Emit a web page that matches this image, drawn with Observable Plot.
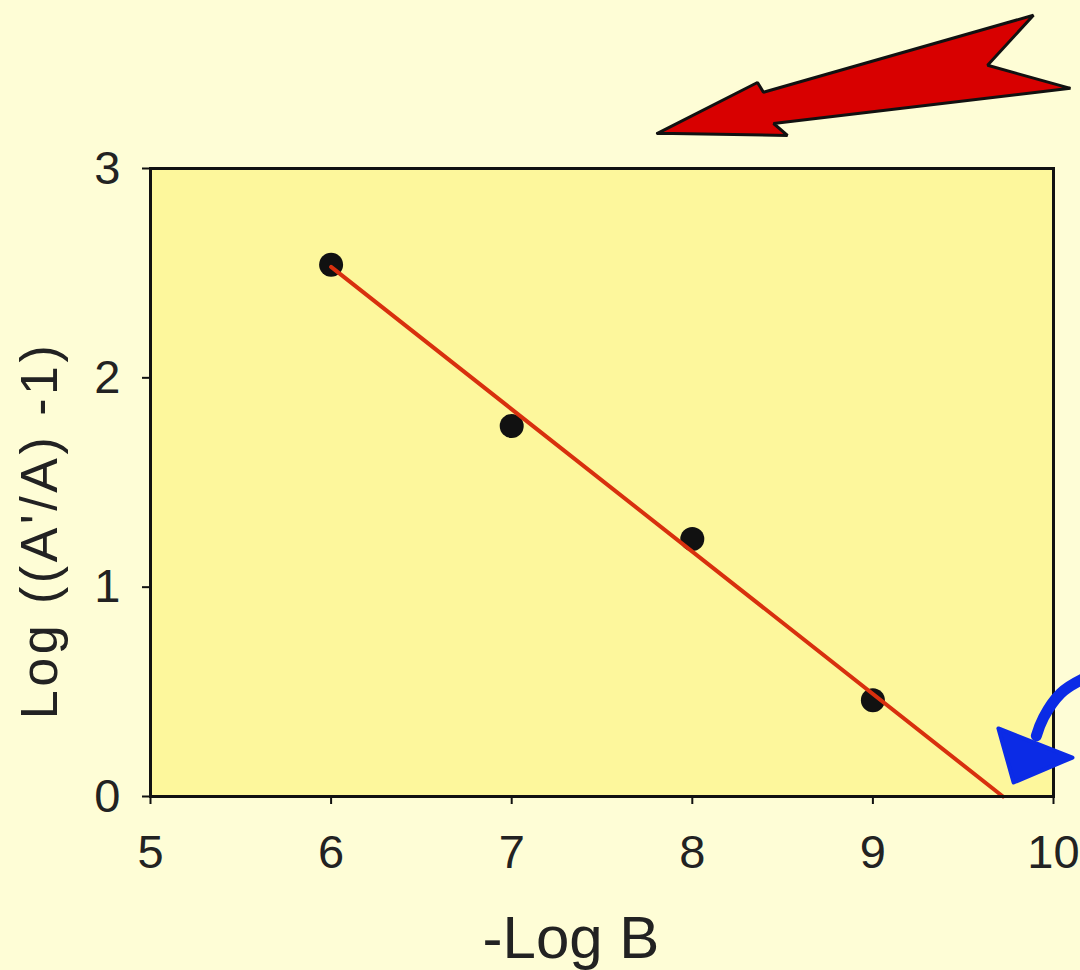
<!DOCTYPE html>
<html>
<head>
<meta charset="utf-8">
<script src="https://cdn.jsdelivr.net/npm/d3@7"></script>
<script src="https://cdn.jsdelivr.net/npm/@observablehq/plot@0.6"></script>
<style>
  html, body { margin: 0; padding: 0; background: #fefdd6; }
  #chart { width: 1080px; height: 970px; }
  svg { font-family: "Liberation Sans", Arial, sans-serif; }
</style>
</head>
<body>
<div id="chart"></div>
<script>
// ---- data ----
const negLogB = [6, 7, 8, 9];
const logRatio = [2.54, 1.77, 1.23, 0.46];
const fitX = [6, 9.72];
const fitY = [2.53, 0];
const xTicks = [5, 6, 7, 8, 9, 10];
const yTicks = [0, 1, 2, 3];
const xTitle = "-Log B";
const yTitle = "Log ((A'/A) -1)";
// annotation arrows (in chart units)
const redArrowX = [7.807, 8.527, 8.450, 10.094, 9.635, 9.889, 8.394, 8.361, 7.807];
const redArrowY = [3.168, 3.158, 3.215, 3.383, 3.493, 3.732, 3.364, 3.411, 3.168];
const blueCurveX = [10.160, 10.039, 9.945, 9.905];
const blueCurveY = [0.560, 0.492, 0.377, 0.290];
const blueHeadX = [9.695, 9.779, 10.105, 9.695];
const blueHeadY = [0.325, 0.067, 0.186, 0.325];

const points = negLogB.map((x, i) => ({x, y: logRatio[i]}));
const fit = fitX.map((x, i) => ({x, y: fitY[i]}));
const redArrow = redArrowX.map((x, i) => ({x, y: redArrowY[i]}));
const blueCurve = blueCurveX.map((x, i) => ({x, y: blueCurveY[i]}));
const blueHead = blueHeadX.map((x, i) => ({x, y: blueHeadY[i]}));

const chart = Plot.plot({
  width: 1080,
  height: 970,
  marginLeft: 150,
  marginRight: 27,
  marginTop: 168,
  marginBottom: 174,
  style: {background: "transparent", fontFamily: "Liberation Sans, Arial, sans-serif"},
  x: {domain: [5, 10], label: null},
  y: {domain: [0, 3], label: null},
  marks: [
    Plot.frame({fill: "#fdf79c", stroke: "none"}),
    Plot.axisX({ticks: xTicks, tickSize: 8, tickPadding: 30, fontSize: 47, stroke: "#111", strokeWidth: 2, fill: "#222", label: null, tickFormat: d => String(d)}),
    Plot.axisY({ticks: yTicks, tickSize: 8, tickPadding: 22, fontSize: 47, stroke: "#111", strokeWidth: 2, fill: "#222", label: null, tickFormat: d => String(d)}),
    Plot.dot(points, {x: "x", y: "y", r: 12, fill: "#111", stroke: "none"}),
    Plot.line(fit, {x: "x", y: "y", stroke: "#d8300e", strokeWidth: 4}),
    Plot.frame({stroke: "#111", strokeWidth: 3}),
    Plot.line(redArrow, {x: "x", y: "y", fill: "#d80000", stroke: "#111", strokeWidth: 3, strokeLinejoin: "miter", curve: "linear"}),
    Plot.line(blueCurve, {x: "x", y: "y", stroke: "#0b2be6", strokeWidth: 11, curve: "natural"}),
    Plot.line(blueHead, {x: "x", y: "y", fill: "#0b2be6", stroke: "#0b2be6", strokeWidth: 4, strokeLinejoin: "round"}),
    Plot.text([xTitle], {frameAnchor: "bottom", dx: -31, dy: 161, text: d => d, fontSize: 60, fill: "#222"}),
    Plot.text([yTitle], {frameAnchor: "left", textAnchor: "middle", lineAnchor: "middle", dx: -110, dy: 48, rotate: -90, text: d => d, fontSize: 52, fill: "#222"})
  ]
});
chart.querySelectorAll("text").forEach(t => {
  if (t.textContent === yTitle) t.style.letterSpacing = "3.5px";
});
document.getElementById("chart").appendChild(chart);
</script>
</body>
</html>
